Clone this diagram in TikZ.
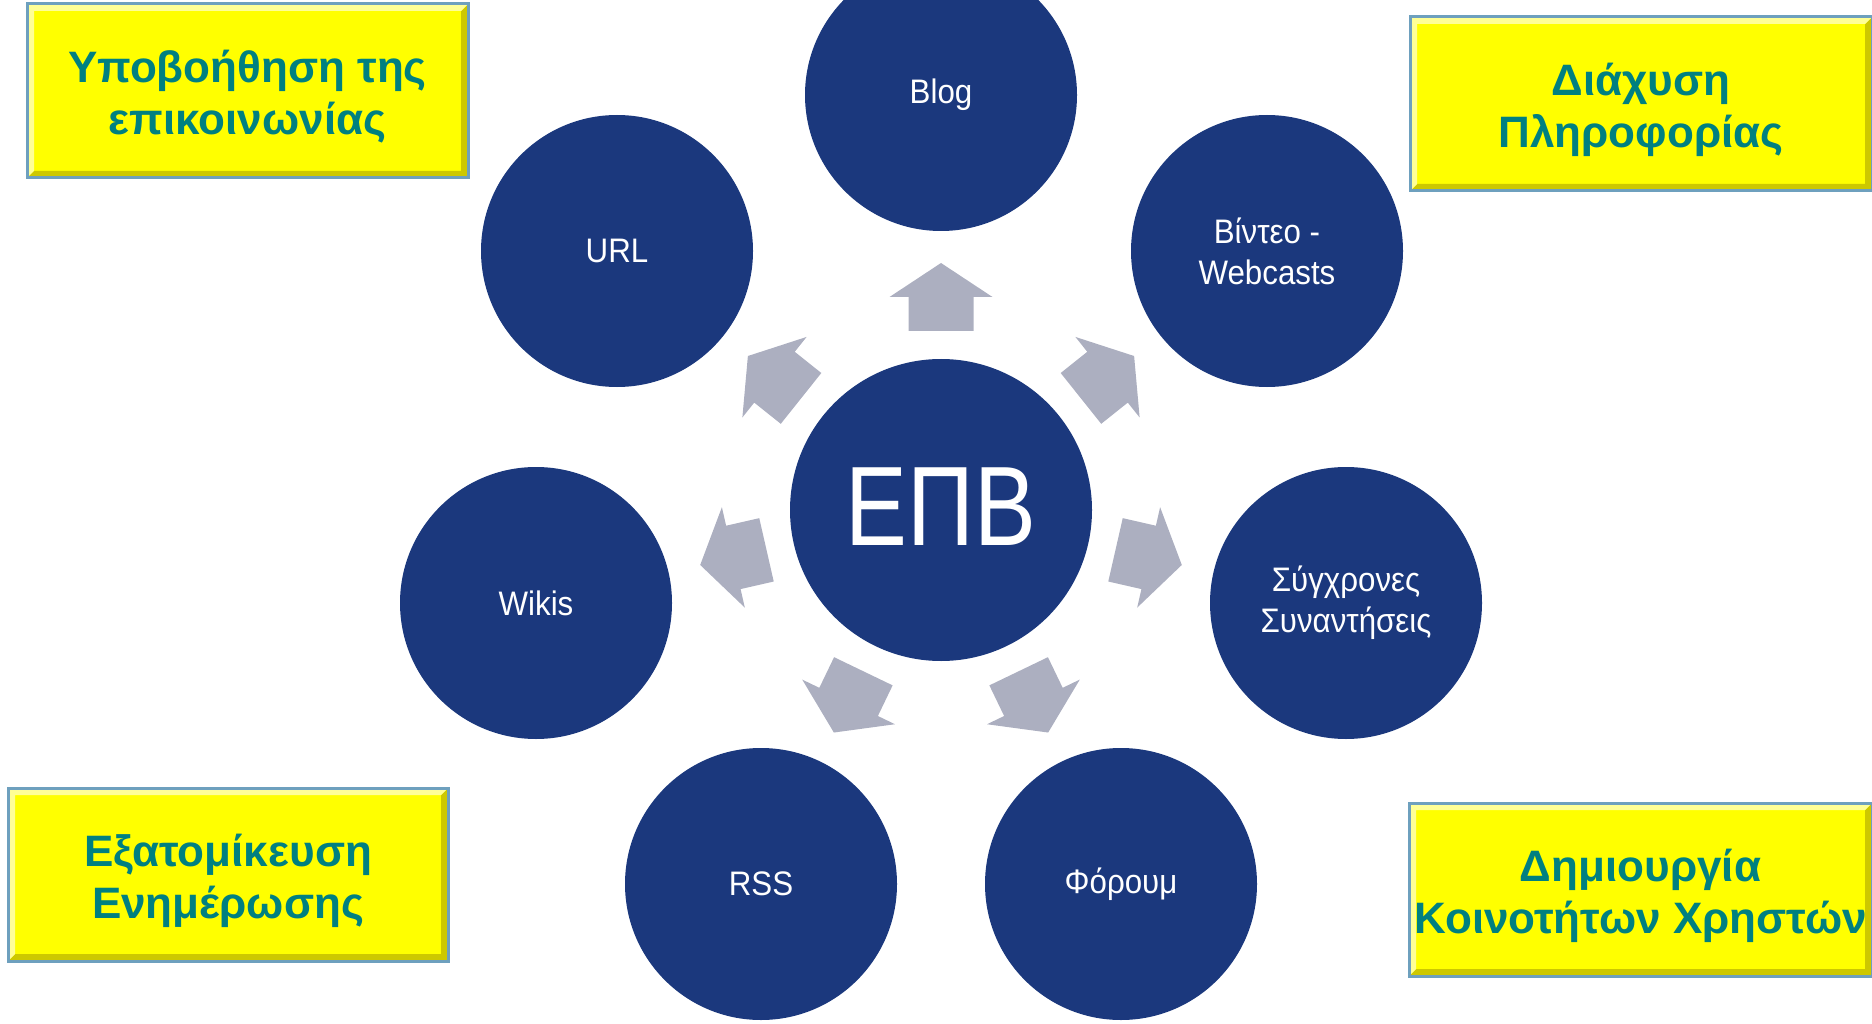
\documentclass[tikz,border=0pt]{standalone}
\usepackage{fontspec}
\setmainfont{Liberation Sans}
\newfontfamily\circfont[FakeStretch=0.92]{Liberation Sans}
\newfontfamily\epbfont[FakeStretch=0.82]{Liberation Sans}
\definecolor{circblue}{RGB}{27,56,125}
\definecolor{arrowgray}{RGB}{172,175,192}
\definecolor{boxyellow}{RGB}{255,255,0}
\definecolor{bevdark}{RGB}{205,200,0}
\definecolor{bevlight}{RGB}{255,255,150}
\definecolor{boxedge}{RGB}{110,160,190}
\definecolor{textteal}{RGB}{0,128,128}

\tikzset{
  circ/.style={circle, fill=circblue, text=white, minimum size=272pt, inner sep=0pt,
    align=center, font=\circfont\fontsize{34}{41}\selectfont},
  infobox/.style={rectangle, fill=boxyellow, draw=boxedge, line width=3pt, inner sep=0pt,
    path picture={
      \fill[bevdark] (path picture bounding box.north east) -- (path picture bounding box.south east)
        -- (path picture bounding box.south west) -- ++(7pt,7pt)
        -- ([xshift=-7pt,yshift=7pt]path picture bounding box.south east)
        -- ([xshift=-7pt,yshift=-7pt]path picture bounding box.north east) -- cycle;
      \fill[bevlight] (path picture bounding box.south west) -- (path picture bounding box.north west)
        -- (path picture bounding box.north east) -- ++(-7pt,-7pt)
        -- ([xshift=7pt,yshift=-7pt]path picture bounding box.north west)
        -- ([xshift=7pt,yshift=7pt]path picture bounding box.south west) -- cycle;
    }},
  boxtext/.style={text=textteal, align=center, inner sep=0pt, font=\bfseries\fontsize{44}{52}\selectfont},
}

\begin{document}
\begin{tikzpicture}[x=1pt, y=-1pt]
\useasboundingbox (0,0) rectangle (1872,1024);
\clip (0,0) rectangle (1872,1024);
% Draw centre
\node[circ, minimum size=302pt, font=\epbfont\fontsize{113}{113}\selectfont] (epb) at (941,510) {\raisebox{7pt}{ΕΠΒ}};
% Draw outer circles
\node[circ] (blog) at (941,95) {Blog};
\node[circ] (video) at (1267,251) {Βίντεο -\\Webcasts};
\node[circ] (sync) at (1346,603) {Σύγχρονες\\Συναντήσεις};
\node[circ] (forum) at (1121,884) {Φόρουμ};
\node[circ] (rss) at (761,884) {RSS};
\node[circ] (wikis) at (536,603) {Wikis};
\node[circ] (url) at (617,251) {URL};
% Draw arrows
\foreach \ang in {90,38.57,-12.86,-64.29,-115.71,-167.14,141.43}
  \fill[arrowgray, shift={(epb.center)}, rotate=\ang]
    (179,-32.5) -- (213,-32.5) -- (213,-51.5) -- (247,0) -- (213,51.5) -- (213,32.5) -- (179,32.5) -- cycle;
% Draw boxes
\node[infobox, minimum width=441pt, minimum height=174pt] (epik) at (247.5,91) {};
\node[infobox, minimum width=462pt, minimum height=174pt] (diax) at (1641,104) {};
\node[infobox, minimum width=440pt, minimum height=173pt] (exat) at (228,874.5) {};
\node[infobox, minimum width=463pt, minimum height=173pt] (koin) at (1640.5,889.5) {};
% Draw labels
\node[boxtext] (epiktext) at ([yshift=-6pt]epik.center) {Υποβοήθηση της\\επικοινωνίας};
\node[boxtext] (diaxtext) at ([yshift=-6pt]diax.center) {Διάχυση\\Πληροφορίας};
\node[boxtext] (exattext) at ([yshift=-6pt]exat.center) {Εξατομίκευση\\Ενημέρωσης};
\node[boxtext] (kointext) at ([yshift=-6pt]koin.center) {Δημιουργία\\Κοινοτήτων Χρηστών};
\end{tikzpicture}
\end{document}
